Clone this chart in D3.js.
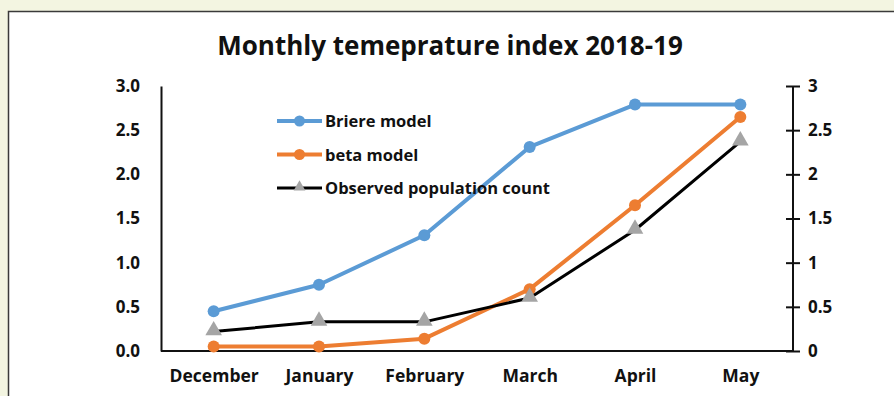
<!DOCTYPE html>
<html>
<head>
<meta charset="utf-8">
<script src="https://cdn.jsdelivr.net/npm/d3@7"></script>
<style>
  html, body { margin: 0; padding: 0; background: #f3f5e1; }
  svg { display: block; }
  text { font-family: "Open Sans", sans-serif; font-weight: bold; fill: #111; }
</style>
</head>
<body>
<div id="chart"></div>
<script>
// Monthly temperature index chart, two y axes (both 0-3)

const months = ["December", "January", "February", "March", "April", "May"];
const briere = [0.45, 0.75, 1.31, 2.31, 2.79, 2.79];
const beta = [0.05, 0.05, 0.14, 0.70, 1.65, 2.65];
const observed = [0.22, 0.33, 0.33, 0.60, 1.37, 2.37];
const leftTicks = [0, 0.5, 1, 1.5, 2, 2.5, 3];
const rightTicks = [0, 0.5, 1, 1.5, 2, 2.5, 3];

const width = 894;
const height = 396;
const margin = { top: 86, right: 101, bottom: 45, left: 161 };

const svg = d3.select("#chart")
  .append("svg")
  .attr("width", width)
  .attr("height", height);

// white panel with a dark border
svg.append("rect")
  .attr("x", 8.5)
  .attr("y", 11.5)
  .attr("width", width + 10)
  .attr("height", height)
  .attr("fill", "#ffffff")
  .attr("stroke", "#3a3a3a")
  .attr("stroke-width", 1.5);

const x = d3.scalePoint()
  .domain(months)
  .range([margin.left, width - margin.right])
  .padding(0.5);

const y = d3.scaleLinear()
  .domain([0, 3])
  .range([height - margin.bottom, margin.top]);

const y2 = d3.scaleLinear()
  .domain([0, 3])
  .range([height - margin.bottom, margin.top]);

// title
svg.append("text")
  .attr("x", 450)
  .attr("y", 55)
  .attr("text-anchor", "middle")
  .style("font-size", "26px")
  .text("Monthly temeprature index 2018-19");

// left axis: line only, labels without ticks
const leftAxis = svg.append("g")
  .attr("transform", `translate(${margin.left},0)`)
  .call(d3.axisLeft(y).tickValues(leftTicks).tickSize(0).tickPadding(21).tickFormat(d3.format(".1f")));
leftAxis.select(".domain").attr("stroke", "#111").attr("stroke-width", 2);
leftAxis.selectAll("text").style("font-size", "17px");

// right axis with cross ticks
const rightAxis = svg.append("g")
  .attr("transform", `translate(${width - margin.right},0)`)
  .call(d3.axisRight(y2).tickValues(rightTicks).tickSize(7).tickPadding(8).tickFormat(d => d3.format("")(d)));
rightAxis.select(".domain").attr("stroke", "#111").attr("stroke-width", 2)
  .attr("d", `M0,${y2(3)}V${y2(0)}`);
rightAxis.selectAll(".tick line")
  .attr("x1", -7)
  .attr("stroke", "#111")
  .attr("stroke-width", 2);
rightAxis.selectAll("text").style("font-size", "17px");

// bottom axis
const bottomAxis = svg.append("g")
  .attr("transform", `translate(0,${height - margin.bottom})`)
  .call(d3.axisBottom(x).tickSize(0).tickPadding(19));
bottomAxis.select(".domain").attr("stroke", "#111").attr("stroke-width", 2)
  .attr("d", `M${margin.left},0H${width - margin.right}`);
bottomAxis.selectAll("text").style("font-size", "17.5px");

const series = [
  { name: "Briere model", values: briere, color: "#5b9bd5", width: 4, marker: "circle", scale: y },
  { name: "beta model", values: beta, color: "#ed7d31", width: 4, marker: "circle", scale: y },
  { name: "Observed population count", values: observed, color: "#000000", width: 3, marker: "triangle", scale: y2 }
];

const tri = d3.symbol().type(d3.symbolTriangle).size(120);

series.forEach(s => {
  const line = d3.line()
    .x((d, i) => x(months[i]))
    .y(d => s.scale(d));

  svg.append("path")
    .datum(s.values)
    .attr("d", line)
    .attr("fill", "none")
    .attr("stroke", s.color)
    .attr("stroke-width", s.width)
    .attr("stroke-linejoin", "round");

  if (s.marker === "circle") {
    svg.selectAll(null)
      .data(s.values)
      .enter()
      .append("circle")
      .attr("cx", (d, i) => x(months[i]))
      .attr("cy", d => s.scale(d))
      .attr("r", 6)
      .attr("fill", s.color);
  } else {
    svg.selectAll(null)
      .data(s.values)
      .enter()
      .append("path")
      .attr("d", tri)
      .attr("transform", (d, i) => `translate(${x(months[i])},${s.scale(d) - 1})`)
      .attr("fill", "#a5a5a5");
  }
});

// legend
const legendX = 277;
const legendY = 121;
series.forEach((s, i) => {
  const g = svg.append("g")
    .attr("transform", `translate(${legendX},${legendY + i * 33.5})`);
  g.append("line")
    .attr("x1", 0)
    .attr("x2", 45)
    .attr("stroke", s.color)
    .attr("stroke-width", s.width);
  if (s.marker === "circle") {
    g.append("circle").attr("cx", 22.5).attr("r", 5.5).attr("fill", s.color);
  } else {
    g.append("path").attr("d", d3.symbol().type(d3.symbolTriangle).size(60))
      .attr("transform", "translate(22.5,-1)").attr("fill", "#a5a5a5");
  }
  g.append("text")
    .attr("x", 48)
    .attr("y", 6)
    .style("font-size", "16.5px")
    .text(s.name);
});
</script>
</body>
</html>
